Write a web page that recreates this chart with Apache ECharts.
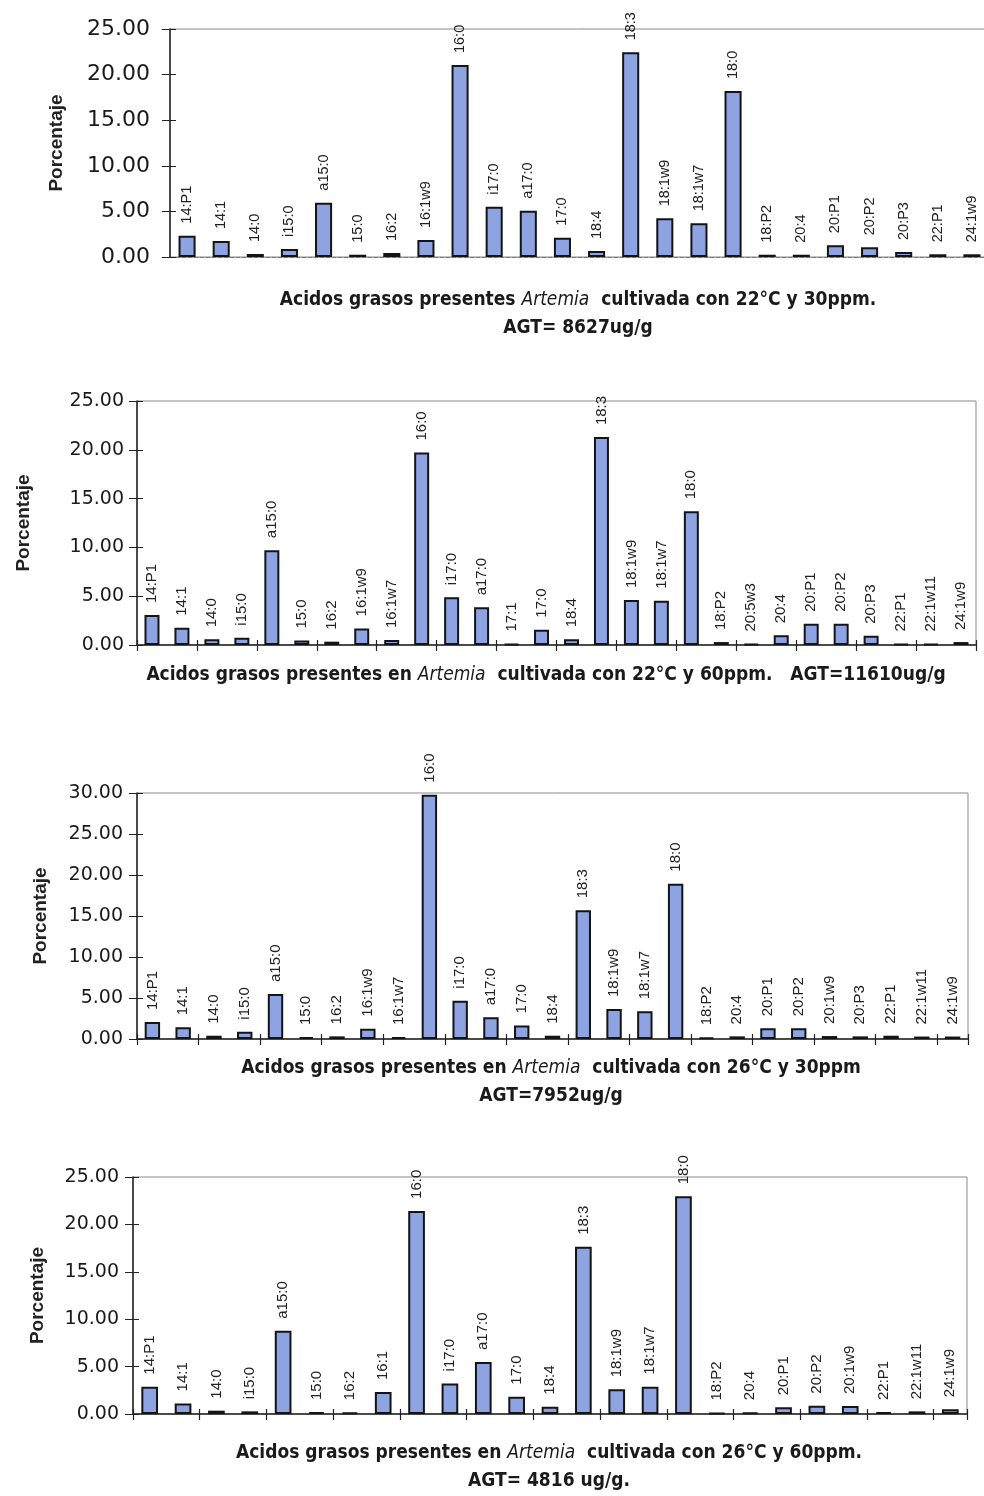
<!DOCTYPE html>
<html>
<head>
<meta charset="utf-8">
<title>Acidos grasos en Artemia</title>
<script src="https://cdn.jsdelivr.net/npm/echarts@6/dist/echarts.min.js"></script>
<style>
  html, body { margin: 0; padding: 0; background: #fff; }
  #chart { width: 984px; height: 1496px; }
</style>
</head>
<body>
<div id="chart"></div>
<script>
// 22°C y 30ppm
const cats1 = ['14:P1', '14:1', '14:0', 'i15:0', 'a15:0', '15:0', '16:2', '16:1w9', '16:0', 'i17:0', 'a17:0', '17:0', '18:4', '18:3', '18:1w9', '18:1w7', '18:0', '18:P2', '20:4', '20:P1', '20:P2', '20:P3', '22:P1', '24:1w9'];
const vals1 = [2.34, 1.75, 0.33, 0.88, 5.96, 0.25, 0.44, 1.86, 21.05, 5.5, 5.08, 2.12, 0.66, 22.44, 4.24, 3.69, 18.2, 0.25, 0.25, 1.3, 1.06, 0.55, 0.3, 0.3];

// 22°C y 60ppm
const cats2 = ['14:P1', '14:1', '14:0', 'i15:0', 'a15:0', '15:0', '16:2', '16:1w9', '16:1w7', '16:0', 'i17:0', 'a17:0', '17:1', '17:0', '18:4', '18:3', '18:1w9', '18:1w7', '18:0', '18:P2', '20:5w3', '20:4', '20:P1', '20:P2', '20:P3', '22:P1', '22:1w11', '24:1w9'];
const vals2 = [3.07, 1.77, 0.58, 0.75, 9.72, 0.45, 0.34, 1.7, 0.5, 19.72, 4.88, 3.86, 0.1, 1.57, 0.58, 21.3, 4.6, 4.54, 13.7, 0.3, 0.1, 0.99, 2.18, 2.18, 0.95, 0.1, 0.1, 0.3];

// 26°C y 30ppm
const cats3 = ['14:P1', '14:1', '14:0', 'i15:0', 'a15:0', '15:0', '16:2', '16:1w9', '16:1w7', '16:0', 'i17:0', 'a17:0', '17:0', '18:4', '18:3', '18:1w9', '18:1w7', '18:0', '18:P2', '20:4', '20:P1', '20:P2', '20:1w9', '20:P3', '22:P1', '22:1w11', '24:1w9'];
const vals3 = [2.07, 1.42, 0.4, 0.89, 5.49, 0.24, 0.32, 1.26, 0.24, 29.8, 4.67, 2.64, 1.66, 0.4, 15.7, 3.66, 3.37, 18.94, 0.16, 0.32, 1.3, 1.3, 0.36, 0.32, 0.4, 0.3, 0.3];

// 26°C y 60ppm
const cats4 = ['14:P1', '14:1', '14:0', 'i15:0', 'a15:0', '15:0', '16:2', '16:1', '16:0', 'i17:0', 'a17:0', '17:0', '18:4', '18:3', '18:1w9', '18:1w7', '18:0', '18:P2', '20:4', '20:P1', '20:P2', '20:1w9', '22:P1', '22:1w11', '24:1w9'];
const vals4 = [2.88, 1.12, 0.35, 0.28, 8.78, 0.21, 0.18, 2.32, 21.42, 3.23, 5.48, 1.83, 0.77, 17.63, 2.6, 2.88, 22.97, 0.1, 0.18, 0.7, 0.88, 0.84, 0.21, 0.28, 0.49];

const yMaxes = [25, 25, 30, 25];
const yTitle = 'Porcentaje';
const titles = [
  '{n|Acidos grasos presentes }{i|Artemia}{n|  cultivada con 22°C y 30ppm.}\n{n|AGT= 8627ug/g}',
  '{n|Acidos grasos presentes en }{i|Artemia}{n|  cultivada con 22°C y 60ppm.   AGT=11610ug/g}',
  '{n|Acidos grasos presentes en }{i|Artemia}{n|  cultivada con 26°C y 30ppm}\n{n|AGT=7952ug/g}',
  '{n|Acidos grasos presentes en }{i|Artemia}{n|  cultivada con 26°C y 60ppm.}\n{n|AGT= 4816 ug/g.}'
];

const cats = [cats1, cats2, cats3, cats4];
const vals = [vals1, vals2, vals3, vals4];

// layout of each panel (pixels)
const panels = [
  { left: 170, top: 29, width: 819, height: 228, yFont: 22, yMargin: 20, nameGap: 104, catFont: 14.5, xTicks: false, titleX: 578, titleY: 286 },
  { left: 137, top: 401, width: 839, height: 244, yFont: 19, yMargin: 13, nameGap: 104, catFont: 15, xTicks: true, titleX: 546, titleY: 661 },
  { left: 137, top: 793, width: 831, height: 246, yFont: 19, yMargin: 14, nameGap: 87, catFont: 15, xTicks: true, titleX: 551, titleY: 1054 },
  { left: 133, top: 1177, width: 834, height: 237, yFont: 19, yMargin: 14, nameGap: 86, catFont: 15, xTicks: true, titleX: 549, titleY: 1439 }
];

const numFont = "'DejaVu Sans', 'Liberation Sans', Arial, sans-serif";
const labFont = "'Liberation Sans', Arial, sans-serif";
const titleFont = "'Liberation Sans Narrow', 'DejaVu Sans Condensed', 'Arial Narrow', sans-serif";

const grid = [], xAxis = [], yAxis = [], series = [], title = [];

panels.forEach((p, i) => {
  grid.push({
    left: p.left, top: p.top, width: p.width, height: p.height,
    show: true, borderColor: '#8a8a8a', borderWidth: 1,
    outerBoundsMode: 'none'
  });

  // main x axis
  xAxis.push({
    type: 'category', gridIndex: i, position: 'bottom', data: cats[i],
    axisLine: { lineStyle: { color: i === 0 ? '#777' : '#222', width: i === 0 ? 1 : 1.5, type: i === 0 ? 'dashed' : 'solid' } },
    axisTick: { show: p.xTicks, length: 6, lineStyle: { color: '#222', width: 1.2 } },
    axisLabel: { show: false }
  });
  // second x axis only for ticks that cross the line
  xAxis.push({
    type: 'category', gridIndex: i, position: 'bottom', data: cats[i],
    axisLine: { show: false },
    axisTick: { show: p.xTicks, inside: true, length: 5, lineStyle: { color: '#222', width: 1.2 } },
    axisLabel: { show: false }
  });

  yAxis.push({
    type: 'value', gridIndex: i, position: 'left', min: 0, max: yMaxes[i], interval: 5,
    name: yTitle, nameLocation: 'middle', nameGap: p.nameGap, nameRotate: 90,
    nameTextStyle: { fontFamily: labFont, fontSize: 19, fontWeight: 'bold', color: '#222' },
    axisLine: { show: true, lineStyle: { color: '#222', width: 1.5 } },
    axisTick: { show: true, length: 8, lineStyle: { color: '#222', width: 1 } },
    axisLabel: { fontFamily: numFont, fontSize: p.yFont, color: '#1a1a1a', margin: p.yMargin, formatter: v => v.toFixed(2) },
    splitLine: { show: false }
  });
  yAxis.push({
    type: 'value', gridIndex: i, position: 'left', min: 0, max: yMaxes[i], interval: 5,
    axisLine: { show: false },
    axisTick: { show: true, inside: true, length: 6, lineStyle: { color: '#222', width: 1 } },
    axisLabel: { show: false },
    splitLine: { show: false }
  });

  series.push({
    type: 'bar',
    xAxisIndex: i * 2, yAxisIndex: i * 2,
    data: vals[i],
    barWidth: '50%',
    itemStyle: { color: '#8ea3e2', borderColor: '#141414', borderWidth: 2 },
    label: {
      show: true, position: 'top', distance: 12, rotate: 90,
      align: 'left', verticalAlign: 'middle', formatter: '{b}',
      fontFamily: labFont, fontSize: p.catFont, color: '#222'
    }
  });

  title.push({
    text: titles[i],
    left: p.titleX, top: p.titleY, textAlign: 'center', padding: 0,
    textStyle: {
      rich: {
        n: { fontFamily: titleFont, fontWeight: 'bold', fontSize: 19, color: '#1a1a1a', lineHeight: 28 },
        i: { fontFamily: titleFont, fontStyle: 'italic', fontWeight: 'normal', fontSize: 19, color: '#1a1a1a', lineHeight: 28 }
      }
    }
  });
});

const chart = echarts.init(document.getElementById('chart'), null, { renderer: 'canvas' });
chart.setOption({
  animation: false,
  backgroundColor: '#fff',
  title, grid, xAxis, yAxis, series
});
</script>
</body>
</html>
